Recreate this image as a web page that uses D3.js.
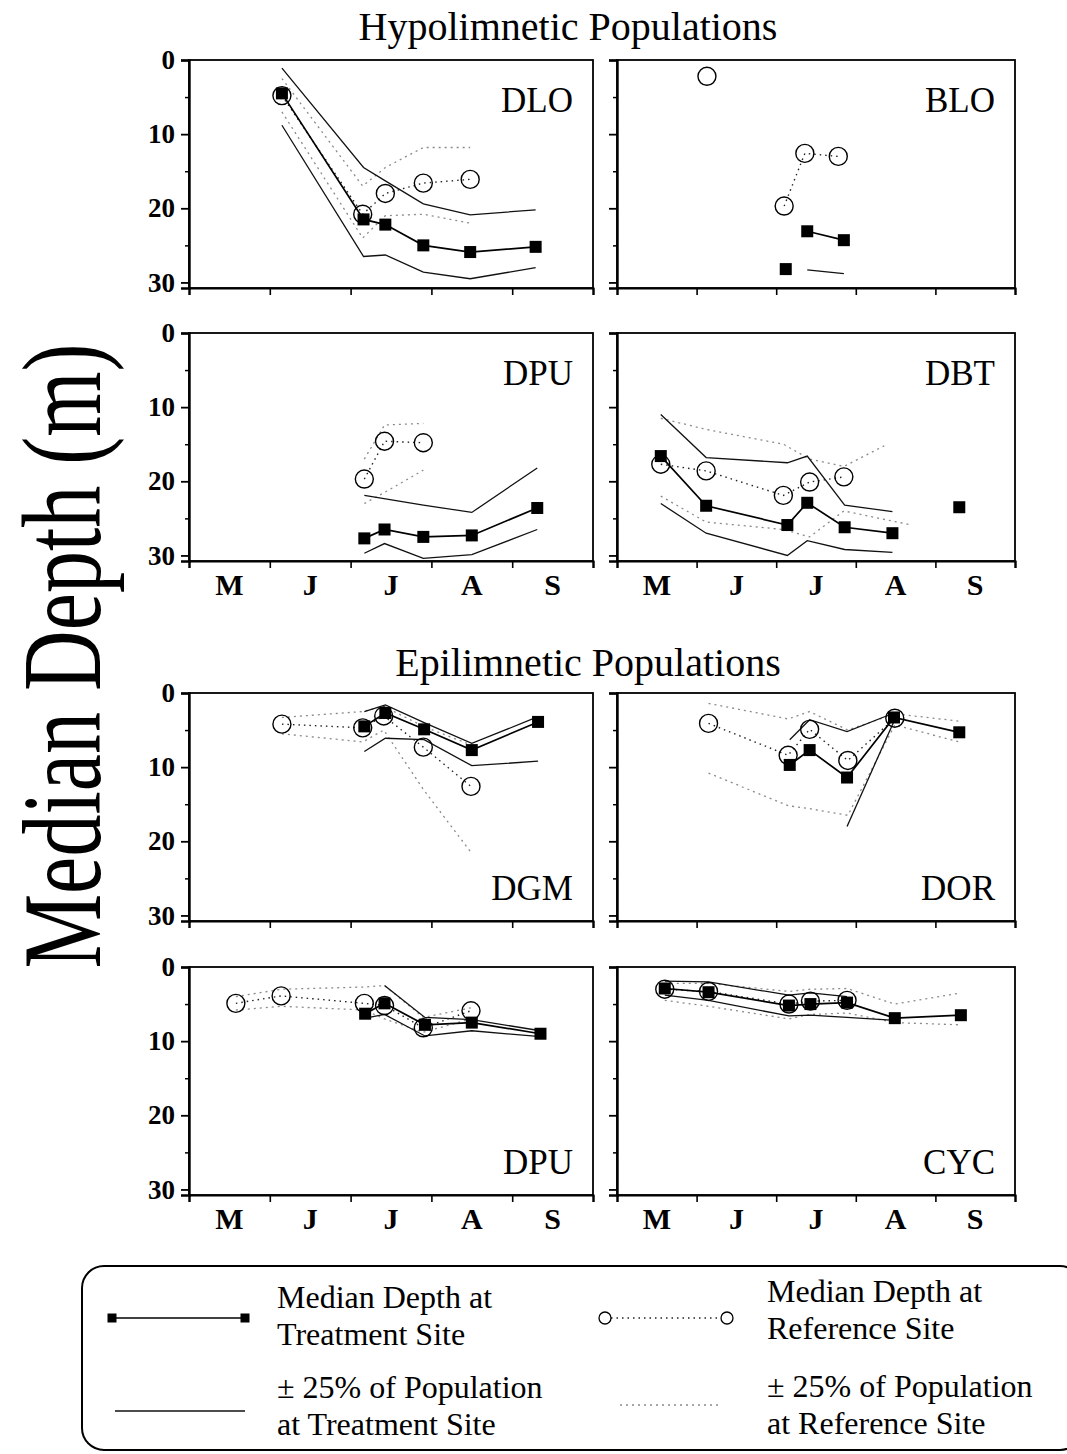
<!DOCTYPE html>
<html><head><meta charset="utf-8">
<script src="https://cdn.jsdelivr.net/npm/d3@7"></script>
<style>
body{margin:0;background:#fff}
svg{display:block}
text{font-family:"Liberation Serif","Times New Roman",serif;fill:#000}
</style>
</head><body>
<svg id="chart" width="1067" height="1454"></svg>
<script>
// ---------- DATA (x = months since 1 May, y = depth in m) ----------
const monthLabels = ["M","J","J","A","S"];
const depthTicks = [0,10,20,30];
const minorDepthTicks = [5,15,25];
const groupTitles = ["Hypolimnetic Populations","Epilimnetic Populations"];
const panelNames = ["DLO","BLO","DPU","DBT","DGM","DOR","DPU","CYC"];

// median depth at treatment site (null = gap in line)
const trtMedian = [
  [[1.15,4.5],[2.16,21.5],[2.43,22.2],[2.90,25.0],[3.48,25.9],[4.29,25.2]],
  [[2.12,28.2],null,[2.39,23.1],[2.85,24.3]],
  [[2.17,27.7],[2.42,26.5],[2.90,27.5],[3.50,27.3],[4.31,23.6]],
  [[0.55,16.6],[1.12,23.3],[2.14,25.9],[2.39,22.9],[2.86,26.2],[3.46,27.0],null,[4.30,23.5]],
  [[2.17,4.5],[2.43,2.7],[2.91,4.9],[3.50,7.7],[4.32,3.9]],
  [[2.17,9.7],[2.42,7.7],[2.89,11.4],[3.48,3.3],[4.30,5.3]],
  [[2.18,6.3],[2.42,4.9],[2.92,7.8],[3.50,7.5],[4.35,9.0]],
  [[0.60,2.9],[1.15,3.4],[2.16,5.2],[2.43,5.0],[2.89,4.8],[3.49,6.9],[4.32,6.5]]
];
// +/-25% of population at treatment site (shallow / deep)
const trtUpper = [
  [[1.15,1.1],[2.16,14.5],[2.43,16.3],[2.90,19.4],[3.48,20.9],[4.29,20.2]],
  [],
  [[2.17,21.9],[2.90,23.2],[3.50,24.2],[4.31,18.2]],
  [[0.55,11.0],[1.12,16.8],[2.14,17.5],[2.39,16.6],[2.86,23.2],[3.46,24.1]],
  [[2.17,2.5],[2.43,1.6],[2.91,4.0],[3.50,6.8],[4.32,3.2]],
  [[2.17,6.3],[2.42,3.6],[2.89,5.2],[3.48,2.7]],
  [[2.42,2.5],[2.92,6.8],[3.50,7.1],[4.35,8.6]],
  [[0.60,1.9],[1.15,2.0],[2.16,3.8],[2.43,3.5],[2.89,4.0]]
];
const trtLower = [
  [[1.15,8.8],[2.16,26.5],[2.43,26.3],[2.90,28.6],[3.48,29.5],[4.29,28.0]],
  [[2.39,28.3],[2.85,28.8]],
  [[2.17,29.7],[2.42,28.4],[2.90,30.4],[3.50,29.9],[4.31,26.5]],
  [[0.55,23.0],[1.12,27.0],[2.14,30.0],[2.39,28.0],[2.86,29.2],[3.46,29.6]],
  [[2.17,7.9],[2.43,6.1],[2.91,6.3],[3.50,9.8],[4.32,9.2]],
  [[2.89,18.0],[3.48,3.8]],
  [[2.18,6.9],[2.42,6.4],[2.92,9.3],[3.50,8.6],[4.35,9.4]],
  [[0.60,3.8],[1.15,4.5],[2.16,6.6],[2.43,6.5],[2.89,6.8],[3.49,7.2]]
];
// median depth at reference site
const refMedian = [
  [[1.15,4.8],[2.15,20.8],[2.43,18.0],[2.90,16.6],[3.48,16.1]],
  [[1.13,2.2],null,[2.10,19.7],[2.36,12.6],[2.78,13.0]],
  [[2.17,19.7],[2.42,14.6],[2.90,14.8]],
  [[0.55,17.7],[1.12,18.6],[2.09,21.9],[2.42,20.1],[2.85,19.4]],
  [[1.15,4.2],[2.15,4.7],[2.41,3.1],[2.90,7.3],[3.49,12.6]],
  [[1.15,4.1],[2.15,8.4],[2.42,4.9],[2.90,9.1],[3.49,3.4]],
  [[0.58,4.9],[1.14,3.9],[2.17,4.9],[2.42,5.2],[2.90,8.2],[3.49,5.9]],
  [[0.60,3.0],[1.15,3.3],[2.16,5.0],[2.43,4.6],[2.89,4.5]]
];
// +/-25% of population at reference site
const refUpper = [
  [[1.15,2.5],[2.15,17.0],[2.43,14.5],[2.90,11.8],[3.48,11.8]],
  [],
  [[2.17,17.0],[2.42,12.4],[2.90,12.2]],
  [[0.55,11.5],[1.12,13.0],[2.09,15.0],[2.42,17.0],[2.85,18.0],[3.36,15.2]],
  [[1.15,3.3],[2.15,2.5],[2.41,1.8],[2.90,4.5],[3.49,7.0]],
  [[1.15,1.4],[2.15,3.5],[2.42,2.5],[2.90,5.0],[3.49,2.8],[4.30,3.8]],
  [[0.58,4.0],[1.14,3.0],[2.17,2.7],[2.42,2.5],[2.90,6.8],[3.49,5.5]],
  [[0.60,2.2],[1.15,2.2],[2.16,3.3],[2.43,3.0],[2.89,2.9],[3.49,5.0],[4.32,3.5]]
];
const refLower = [
  [[1.15,7.0],[2.15,24.0],[2.43,21.0],[2.90,20.8],[3.48,22.0]],
  [],
  [[2.17,23.0],[2.42,21.5],[2.90,18.5]],
  [[0.55,22.0],[1.12,25.5],[2.09,26.5],[2.42,27.5],[2.85,24.0],[3.70,25.9]],
  [[1.15,5.5],[2.15,6.6],[2.41,5.0],[2.90,13.0],[3.49,21.5]],
  [[1.15,10.8],[2.15,15.2],[2.42,15.6],[2.90,16.5],[3.49,4.3],[4.30,6.6]],
  [[0.58,5.8],[1.14,5.3],[2.17,5.8],[2.42,7.0],[2.90,8.8],[3.49,7.0]],
  [[0.60,4.5],[1.15,5.3],[2.16,7.0],[2.43,6.4],[2.89,6.2],[3.49,7.5],[4.32,7.8]]
];
const legendLabels = [
  ["Median Depth at","Treatment Site"],
  ["Median Depth at","Reference Site"],
  ["\u00b1 25% of Population","at Treatment Site"],
  ["\u00b1 25% of Population","at Reference Site"]
];

// ---------- LAYOUT ----------
const svg = d3.select("#chart");
const colX = [189, 617], colW = [404, 398];
const rowTop = [60, 333, 693, 967], H = 228;
const serif = '"Liberation Serif","Times New Roman",serif';

svg.append("text").attr("x",568).attr("y",40).attr("text-anchor","middle")
  .attr("font-size",40).text(groupTitles[0]);
svg.append("text").attr("x",588).attr("y",676).attr("text-anchor","middle")
  .attr("font-size",40).text(groupTitles[1]);

svg.append("text")
  .attr("transform","translate(100,656) rotate(-90) scale(1,1.33)")
  .attr("text-anchor","middle").attr("font-size",84).text("Median Depth (m)");

const valid = d => d != null;

panelNames.forEach((name, i) => {
  const col = i % 2, row = Math.floor(i / 2);
  const x0 = colX[col], w = colW[col], y0 = rowTop[row];
  const x = d3.scaleLinear().domain([0,5]).range([x0, x0 + w]);
  const y = d3.scaleLinear().domain([0,30.75]).range([y0, y0 + H]);
  const g = svg.append("g");

  // frame
  g.append("rect").attr("x",x0).attr("y",y0).attr("width",w).attr("height",H)
    .attr("fill","none").attr("stroke","#000").attr("stroke-width",1.8);

  // y axis
  const ya = g.append("g").attr("transform",`translate(${x0},0)`)
    .call(d3.axisLeft(y).tickValues(depthTicks).tickSize(8).tickPadding(6)
      .tickFormat(col === 0 ? d3.format("d") : () => ""));
  ya.select(".domain").attr("stroke-width",2.4);
  ya.selectAll("line").attr("stroke-width",1.8);
  ya.selectAll("text").attr("font-family",serif).attr("font-size",27).attr("font-weight","bold");
  const ym = g.append("g").attr("transform",`translate(${x0},0)`)
    .call(d3.axisLeft(y).tickValues(minorDepthTicks).tickSize(4).tickFormat(() => ""));
  ym.select(".domain").remove();
  ym.selectAll("line").attr("stroke-width",1.5);

  // x axis
  const xa = g.append("g").attr("transform",`translate(0,${y0 + H})`)
    .call(d3.axisBottom(x).tickValues([0,1,2,3,4,5]).tickSize(7).tickFormat(() => ""));
  xa.select(".domain").attr("stroke-width",2.2);
  xa.selectAll("line").attr("stroke-width",1.6);
  if (row === 1 || row === 3) {
    g.selectAll(".mlab").data(monthLabels).join("text")
      .attr("x",(d,k) => x(k + 0.5)).attr("y",y0 + H + 34)
      .attr("text-anchor","middle").attr("font-size",30).attr("font-weight","bold")
      .text(d => d);
  }

  // panel label
  const labelY = row < 2 ? y0 + 52 : y0 + 207;
  g.append("text").attr("x",x0 + w - 20).attr("y",labelY).attr("text-anchor","end")
    .attr("font-size",35).text(name);

  const clip = "clip" + i;
  svg.append("clipPath").attr("id",clip).append("rect")
    .attr("x",x0).attr("y",y0).attr("width",w).attr("height",H);
  const plot = g.append("g").attr("clip-path",`url(#${clip})`);

  const line = d3.line().defined(valid).x(d => x(d[0])).y(d => y(d[1]));

  plot.append("path").datum(refUpper[i]).attr("d",line).attr("fill","none")
    .attr("stroke","#8a8a8a").attr("stroke-width",1.3).attr("stroke-dasharray","2,4");
  plot.append("path").datum(refLower[i]).attr("d",line).attr("fill","none")
    .attr("stroke","#8a8a8a").attr("stroke-width",1.3).attr("stroke-dasharray","2,4");
  plot.append("path").datum(trtUpper[i]).attr("d",line).attr("fill","none")
    .attr("stroke","#111").attr("stroke-width",1.3);
  plot.append("path").datum(trtLower[i]).attr("d",line).attr("fill","none")
    .attr("stroke","#111").attr("stroke-width",1.3);
  plot.append("path").datum(refMedian[i]).attr("d",line).attr("fill","none")
    .attr("stroke","#222").attr("stroke-width",1.4).attr("stroke-dasharray","1.5,4");
  plot.append("path").datum(trtMedian[i]).attr("d",line).attr("fill","none")
    .attr("stroke","#000").attr("stroke-width",1.7);

  g.selectAll(".ref").data(refMedian[i].filter(valid)).join("circle")
    .attr("cx",d => x(d[0])).attr("cy",d => y(d[1])).attr("r",9)
    .attr("fill","none").attr("stroke","#000").attr("stroke-width",1.4);
  g.selectAll(".trt").data(trtMedian[i].filter(valid)).join("rect")
    .attr("x",d => x(d[0]) - 6).attr("y",d => y(d[1]) - 6)
    .attr("width",12).attr("height",12).attr("fill","#000");
});

// ---------- LEGEND ----------
const lg = svg.append("g");
lg.append("rect").attr("x",82).attr("y",1266).attr("width",1000).attr("height",184)
  .attr("rx",22).attr("fill","none").attr("stroke","#000").attr("stroke-width",2);

lg.append("line").attr("x1",112).attr("x2",245).attr("y1",1318).attr("y2",1318)
  .attr("stroke","#000").attr("stroke-width",1.7);
lg.selectAll(".ls").data([112,245]).join("rect")
  .attr("x",d => d - 4.5).attr("y",1313.5).attr("width",9).attr("height",9).attr("fill","#000");
lg.append("line").attr("x1",115).attr("x2",245).attr("y1",1411).attr("y2",1411)
  .attr("stroke","#111").attr("stroke-width",1.5);
lg.append("line").attr("x1",611).attr("x2",721).attr("y1",1318).attr("y2",1318)
  .attr("stroke","#222").attr("stroke-width",1.3).attr("stroke-dasharray","1.5,4");
lg.selectAll(".lc").data([605,727]).join("circle")
  .attr("cx",d => d).attr("cy",1318).attr("r",6)
  .attr("fill","none").attr("stroke","#000").attr("stroke-width",1.3);
lg.append("line").attr("x1",620).attr("x2",722).attr("y1",1405).attr("y2",1405)
  .attr("stroke","#8a8a8a").attr("stroke-width",1.3).attr("stroke-dasharray","2,4");

const legPos = [[277,1308],[767,1302],[277,1398],[767,1397]];
legendLabels.forEach((lines, k) => {
  const t = lg.append("text").attr("x",legPos[k][0]).attr("y",legPos[k][1]).attr("font-size",32);
  lines.forEach((s, j) => t.append("tspan").attr("x",legPos[k][0]).attr("dy", j ? 37 : 0).text(s));
});
</script>
</body></html>
